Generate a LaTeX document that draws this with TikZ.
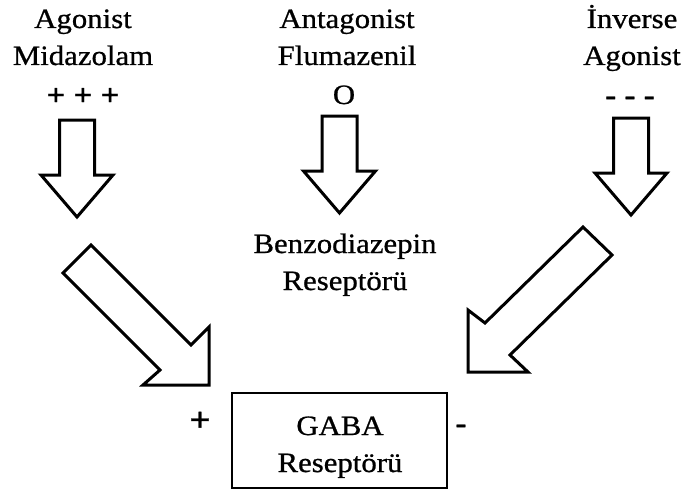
\documentclass[tikz,border=0pt]{standalone}
\usepackage{fontspec}
\setmainfont{Liberation Serif}[FakeStretch=1.1,FakeBold=0.8]

\begin{document}
\begin{tikzpicture}[x=1pt,y=-1pt,
    lbl/.style={font=\fontsize{28}{38}\selectfont,inner sep=0pt,anchor=base},
    sign/.style={lbl,font=\fontsize{30}{38}\selectfont\bfseries},
    arrowline/.style={line width=3pt},
    hollowdown/.pic={
      \draw[arrowline] (-17.5,0) -- (-17.5,55) -- (-36,55) -- (0,97)
        -- (36,55) -- (17.5,55) -- (17.5,0) -- cycle;}]
  \useasboundingbox (0,0) rectangle (687,492);
  \node[lbl] (ag1) at (83,28) {Agonist};
  \node[lbl] (ag2) at (83,65) {Midazolam};
  \node[sign] (agsign) at (83,105) {+ + +};
  \node[lbl] (ant1) at (347,28) {Antagonist};
  \node[lbl] (ant2) at (347,65) {Flumazenil};
  \node[lbl] (antsign) at (344,104) {O};
  \node[lbl] (inv1) at (632,28) {İnverse};
  \node[lbl] (inv2) at (632,65) {Agonist};
  \node[sign] (invsign) at (630,105) {- - -};
  \pic (agdown) at (77,120) {hollowdown};
  \pic (antdown) at (339.5,116) {hollowdown};
  \pic (invdown) at (631,118) {hollowdown};
  \node[lbl] (bz1) at (345,253) {Benzodiazepin};
  \node[lbl] (bz2) at (345,290) {Reseptörü};
  \draw[arrowline] (91,245) -- (191,345) -- (209,327) -- (209,385)
    -- (143,385) -- (160,370) -- (63,273) -- cycle;
  \draw[arrowline] (583,227) -- (485,323) -- (468,310) -- (468,372)
    -- (528,372) -- (510,355) -- (612,255) -- cycle;
  \node[draw,line width=2.6pt,minimum width=215pt,minimum height=95pt,inner sep=0pt]
    (gaba) at (339.5,440.5) {};
  \node[lbl] (gaba1) at (340,435) {GABA};
  \node[lbl] (gaba2) at (340,472) {Reseptörü};
  \node[sign,font=\fontsize{34}{38}\selectfont\bfseries] (plus) at (200,431) {+};
  \node[sign] (minus) at (461,433) {-};
\end{tikzpicture}
\end{document}
